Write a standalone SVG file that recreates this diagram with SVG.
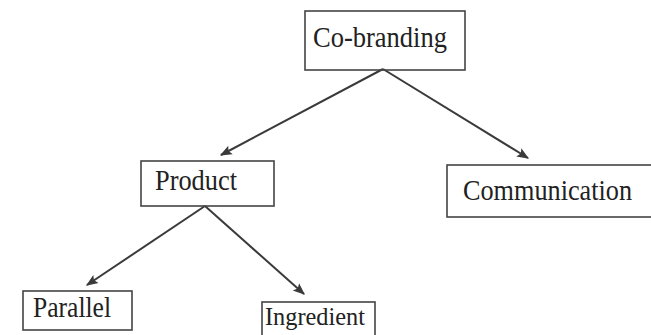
<svg xmlns="http://www.w3.org/2000/svg" width="651" height="335" viewBox="0 0 651 335">
<style>
.box{fill:none;stroke:#444;stroke-width:1.6}
.lbl{font-family:"Liberation Serif","Times New Roman",serif;font-size:29px;fill:#222;lengthAdjust:spacingAndGlyphs}
.edge{stroke:#3a3a3a;stroke-width:2;fill:none;marker-end:url(#ah)}
</style>
<defs>
<marker id="ah" viewBox="0 0 10 10" refX="9" refY="5" markerWidth="6" markerHeight="6" orient="auto" markerUnits="strokeWidth">
<path d="M0,1 L10,5 L0,9 L2,5 Z" fill="#3a3a3a"/>
</marker>
</defs>
<rect width="651" height="335" fill="#fff"/>
<g id="connectors">
<line class="edge" x1="383" y1="69" x2="221" y2="155"/>
<line class="edge" x1="383" y1="69" x2="528" y2="158"/>
<line class="edge" x1="205" y1="206" x2="87" y2="285"/>
<line class="edge" x1="205" y1="206" x2="304" y2="294"/>
</g>
<g id="n-cobranding">
<rect class="box" x="305" y="11" width="160" height="59"/>
<text class="lbl" x="313" y="47" textLength="134" lengthAdjust="spacingAndGlyphs">Co-branding</text>
</g>
<g id="n-product">
<rect class="box" x="141" y="161" width="133" height="45"/>
<text class="lbl" x="155" y="190" textLength="82" lengthAdjust="spacingAndGlyphs">Product</text>
</g>
<g id="n-communication">
<rect class="box" x="447" y="165" width="210" height="52"/>
<text class="lbl" x="463" y="200" textLength="169" lengthAdjust="spacingAndGlyphs">Communication</text>
</g>
<g id="n-parallel">
<rect class="box" x="23" y="291" width="109" height="39"/>
<text class="lbl" x="33" y="317" textLength="78" lengthAdjust="spacingAndGlyphs">Parallel</text>
</g>
<g id="n-ingredient">
<rect class="box" x="262" y="302" width="113" height="40"/>
<text class="lbl" x="265" y="325" style="font-size:26px" textLength="100" lengthAdjust="spacingAndGlyphs">Ingredient</text>
</g>
</svg>
